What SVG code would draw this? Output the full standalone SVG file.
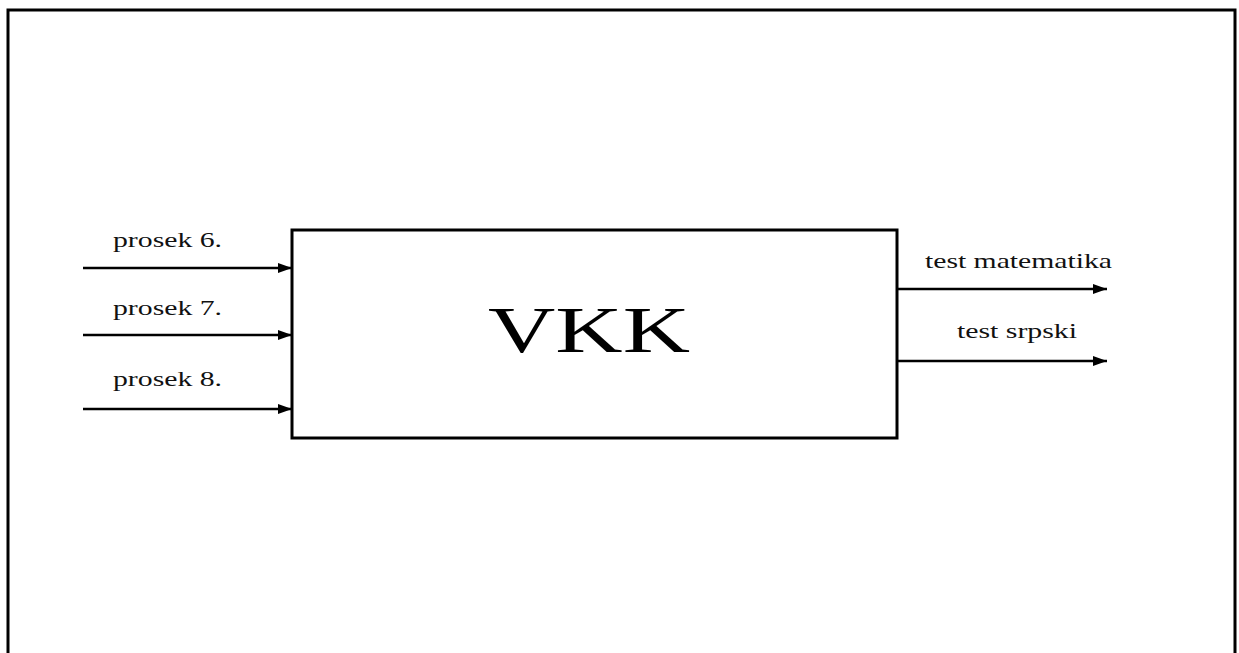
<svg xmlns="http://www.w3.org/2000/svg" width="1239" height="653" viewBox="0 0 1239 653">
<defs>
<style>
.lbl{font-family:"Liberation Serif","Times New Roman",serif;font-size:22px;fill:#111}
.ln{stroke:#000;stroke-width:2.5;fill:none}
</style>
<marker id="ah" markerWidth="14" markerHeight="10" refX="14" refY="5" orient="auto" markerUnits="userSpaceOnUse">
<path d="M0,0 L14,5 L0,10 Z" fill="#000"/>
</marker>
</defs>
<rect width="1239" height="653" fill="#fff"/>
<path d="M8,660 L8,10 L1235,10 L1235,660" fill="none" stroke="#000" stroke-width="3"/>
<g id="vkk">
<rect x="292" y="230" width="605" height="208" fill="#fff" stroke="#000" stroke-width="3"/>
<text x="488" y="352" font-family="Liberation Serif,Times New Roman,serif" font-size="66" textLength="202" lengthAdjust="spacingAndGlyphs" fill="#000">VKK</text>
</g>
<g id="labels">
<text class="lbl" x="113" y="247" textLength="109" lengthAdjust="spacingAndGlyphs">prosek 6.</text>
<text class="lbl" x="113" y="315" textLength="109" lengthAdjust="spacingAndGlyphs">prosek 7.</text>
<text class="lbl" x="113" y="386" textLength="109" lengthAdjust="spacingAndGlyphs">prosek 8.</text>
<text class="lbl" x="925" y="268" textLength="187" lengthAdjust="spacingAndGlyphs">test matematika</text>
<text class="lbl" x="957" y="338" textLength="120" lengthAdjust="spacingAndGlyphs">test srpski</text>
</g>
<g id="connectors">
<line class="ln" x1="83" y1="268" x2="292" y2="268" marker-end="url(#ah)"/>
<line class="ln" x1="83" y1="335" x2="292" y2="335" marker-end="url(#ah)"/>
<line class="ln" x1="83" y1="409" x2="292" y2="409" marker-end="url(#ah)"/>
<line class="ln" x1="897" y1="289" x2="1107" y2="289" marker-end="url(#ah)"/>
<line class="ln" x1="897" y1="361" x2="1107" y2="361" marker-end="url(#ah)"/>
</g>
</svg>
